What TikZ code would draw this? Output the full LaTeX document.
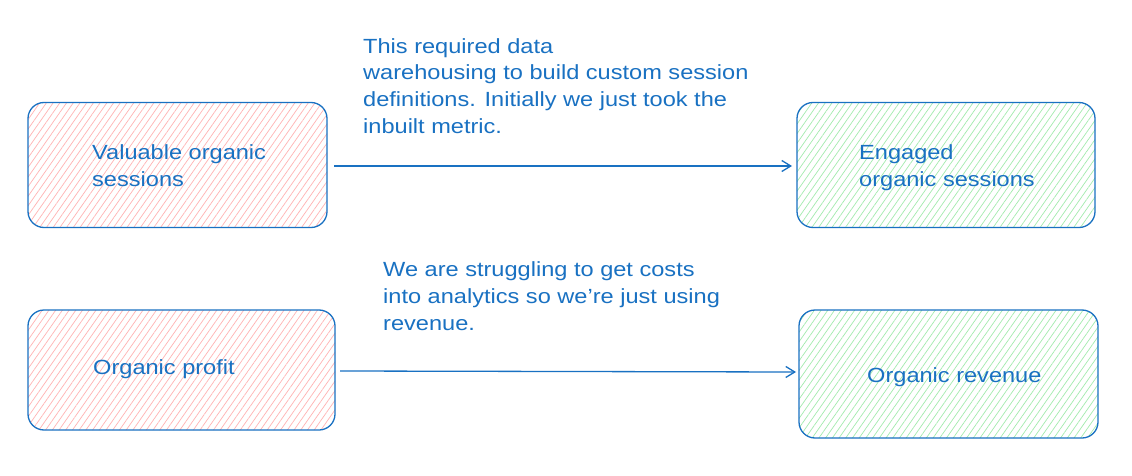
\documentclass[tikz,border=0pt]{standalone}
\usepackage{fontspec}
\setmainfont[FakeStretch=1.15]{Liberation Sans}
\usetikzlibrary{arrows.meta,patterns.meta}
\definecolor{exblue}{HTML}{1971C2}
\definecolor{expink}{HTML}{FFB3B3}
\definecolor{exgreen}{HTML}{A3EBAE}
\tikzset{
  box/.style={draw=exblue, line width=1.3pt, rounded corners=16pt, rectangle},
  redbox/.style={box, pattern={Lines[angle=55,distance=5.5pt,line width=0.7pt]}, pattern color=expink},
  greenbox/.style={box, pattern={Lines[angle=55,distance=5.5pt,line width=0.7pt]}, pattern color=exgreen},
  lbl/.style={text=exblue, font=\fontsize{20.5}{27}\selectfont, align=left, inner sep=0pt, anchor=base west},
  conn/.style={draw=exblue, line width=1.3pt, -{Straight Barb[length=9pt,width=11pt,line width=1.3pt]}}
}
\begin{document}
\begin{tikzpicture}[x=1pt,y=-1pt]
\useasboundingbox[fill=white] (0,0) rectangle (1132,476);
\node[redbox, minimum width=299pt, minimum height=125pt] (b1) at (177.5,165) {};
\node[greenbox, minimum width=298pt, minimum height=125pt] (b2) at (946,165) {};
\node[redbox, minimum width=307pt, minimum height=120pt] (b3) at (181.5,370) {};
\node[greenbox, minimum width=299pt, minimum height=128pt] (b4) at (948.5,374) {};
\node[lbl] (t1) at (92,186.5) {Valuable organic\\sessions};
\node[lbl] (t2) at (859,186) {Engaged\\organic sessions};
\node[lbl] (t3) at (93,374) {Organic profit};
\node[lbl] (t4) at (867,382) {Organic revenue};
\node[lbl] (n1) at (363,134) {This required data\\warehousing to build custom session\\definitions. Initially we just took the\\inbuilt metric.};
\node[lbl] (n2) at (383,330.5) {We are struggling to get costs\\into analytics so we're just using\\revenue.};
\coordinate (a1s) at (334,166);
\coordinate (a1e) at (792,166);
\coordinate (a2s) at (340,371);
\coordinate (a2e) at (796,372);
\draw[conn] (a1s) -- (a1e);
\draw[conn] (a2s) -- (a2e);
\end{tikzpicture}
\end{document}
